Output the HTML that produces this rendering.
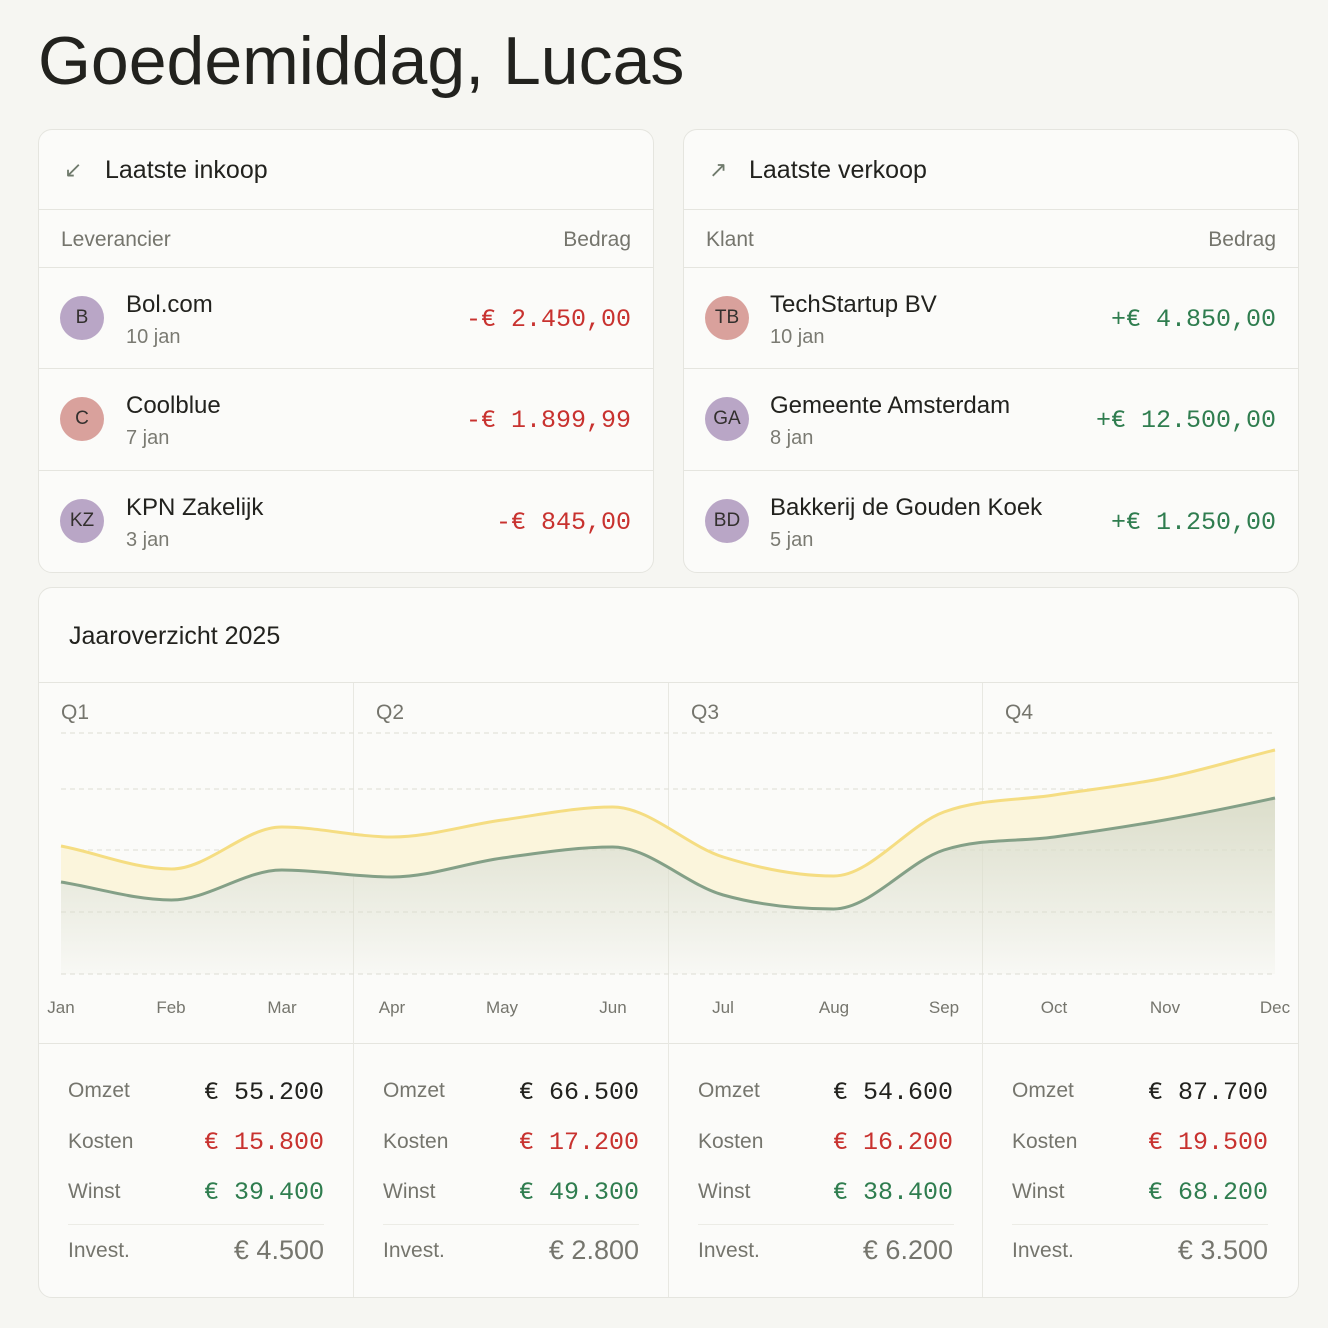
<!DOCTYPE html>
<html><head><meta charset="utf-8"><style>
*{margin:0;padding:0;box-sizing:border-box}
body{width:1328px;height:1328px;background:#f6f6f2;font-family:"Liberation Sans",sans-serif;color:#22221e;position:relative;overflow:hidden}
.a{position:absolute;white-space:nowrap}
.card{position:absolute;background:#fbfbf9;border:1px solid #e5e5df;border-radius:14px}
.hl{position:absolute;height:1px;background:#e5e5df}
.vl{position:absolute;width:1px;background:#e8e8e2}
.av{position:absolute;width:44px;height:44px;border-radius:50%;font-size:19px;text-align:center;line-height:44px;color:#33302e}
.nm{font-size:24px;color:#22221e}
.dt{font-size:20px;color:#7a7a72}
.mono{font-family:"Liberation Mono",monospace}
.red{color:#c8322f}.grn{color:#2f7d4f}
.hd{font-size:21px;color:#75756d}
.lb{font-size:21px;color:#75756d}
.v{font-family:"Liberation Mono",monospace;font-size:25px;text-align:right}
.iv{font-size:27px;color:#75756d}
</style></head><body>
<div class="a" style="left:38px;top:22px;font-size:68px;color:#22221e">Goedemiddag, Lucas</div>

<!-- left card -->
<div class="card" style="left:38px;top:129px;width:616px;height:444px"></div>
<div class="a" style="left:64px;top:157px;font-size:22px;color:#6f7a6c">↙</div>
<div class="a" style="left:105px;top:156px;font-size:25px">Laatste inkoop</div>
<div class="hl" style="left:39px;top:209px;width:614px"></div>
<div class="a hd" style="left:61px;top:228px">Leverancier</div>
<div class="a hd" style="right:697px;top:228px">Bedrag</div>
<div class="hl" style="left:39px;top:267px;width:614px"></div>
<div class="av" style="left:60px;top:296px;background:#b9a6c6">B</div>
<div class="a nm" style="left:126px;top:291px">Bol.com</div>
<div class="a dt" style="left:126px;top:326px">10 jan</div>
<div class="a mono red" style="right:697px;top:305px;font-size:25px">-€ 2.450,00</div>
<div class="hl" style="left:39px;top:368px;width:614px"></div>
<div class="av" style="left:60px;top:397px;background:#d9a19c">C</div>
<div class="a nm" style="left:126px;top:392px">Coolblue</div>
<div class="a dt" style="left:126px;top:427px">7 jan</div>
<div class="a mono red" style="right:697px;top:406px;font-size:25px">-€ 1.899,99</div>
<div class="hl" style="left:39px;top:470px;width:614px"></div>
<div class="av" style="left:60px;top:499px;background:#b9a6c6">KZ</div>
<div class="a nm" style="left:126px;top:494px">KPN Zakelijk</div>
<div class="a dt" style="left:126px;top:529px">3 jan</div>
<div class="a mono red" style="right:697px;top:508px;font-size:25px">-€ 845,00</div>

<!-- right card -->
<div class="card" style="left:683px;top:129px;width:616px;height:444px"></div>
<div class="a" style="left:709px;top:157px;font-size:22px;color:#6f7a6c">↗</div>
<div class="a" style="left:749px;top:156px;font-size:25px">Laatste verkoop</div>
<div class="hl" style="left:684px;top:209px;width:614px"></div>
<div class="a hd" style="left:706px;top:228px">Klant</div>
<div class="a hd" style="right:52px;top:228px">Bedrag</div>
<div class="hl" style="left:684px;top:267px;width:614px"></div>
<div class="av" style="left:705px;top:296px;background:#d9a19c">TB</div>
<div class="a nm" style="left:770px;top:291px">TechStartup BV</div>
<div class="a dt" style="left:770px;top:326px">10 jan</div>
<div class="a mono grn" style="right:52px;top:305px;font-size:25px">+€ 4.850,00</div>
<div class="hl" style="left:684px;top:368px;width:614px"></div>
<div class="av" style="left:705px;top:397px;background:#b9a6c6">GA</div>
<div class="a nm" style="left:770px;top:392px">Gemeente Amsterdam</div>
<div class="a dt" style="left:770px;top:427px">8 jan</div>
<div class="a mono grn" style="right:52px;top:406px;font-size:25px">+€ 12.500,00</div>
<div class="hl" style="left:684px;top:470px;width:614px"></div>
<div class="av" style="left:705px;top:499px;background:#b9a6c6">BD</div>
<div class="a nm" style="left:770px;top:494px">Bakkerij de Gouden Koek</div>
<div class="a dt" style="left:770px;top:529px">5 jan</div>
<div class="a mono grn" style="right:52px;top:508px;font-size:25px">+€ 1.250,00</div>

<!-- chart card -->
<div class="card" style="left:38px;top:587px;width:1261px;height:711px"></div>
<div class="a" style="left:69px;top:622px;font-size:25px">Jaaroverzicht 2025</div>
<div class="hl" style="left:39px;top:682px;width:1259px"></div>
<div class="hl" style="left:39px;top:1043px;width:1259px"></div>
<div class="vl" style="left:353px;top:683px;height:614px"></div>
<div class="vl" style="left:668px;top:683px;height:614px"></div>
<div class="vl" style="left:982px;top:683px;height:614px"></div>
<div class="a lb" style="left:61px;top:701px">Q1</div>
<div class="a lb" style="left:376px;top:701px">Q2</div>
<div class="a lb" style="left:691px;top:701px">Q3</div>
<div class="a lb" style="left:1005px;top:701px">Q4</div>

<svg class="a" style="left:0;top:0" width="1328" height="1328">
<defs><linearGradient id="g" x1="0" y1="800" x2="0" y2="974" gradientUnits="userSpaceOnUse"><stop offset="0" stop-color="#dcdecb"/><stop offset="1" stop-color="#dcdecb" stop-opacity="0.1"/></linearGradient></defs>
<g stroke="#e2e2dc" stroke-width="1.3" stroke-dasharray="5 4">
<line x1="61" y1="733" x2="1275" y2="733"/><line x1="61" y1="789" x2="1275" y2="789"/><line x1="61" y1="850" x2="1275" y2="850"/><line x1="61" y1="912" x2="1275" y2="912"/><line x1="61" y1="974" x2="1275" y2="974"/>
</g>
<path fill="#fbf5dc" d="M61 846 C97.8 853,134.6 869,171.4 869 C208.2 869,244.9 827,281.7 827 C318.5 827,355.3 837,392.1 837 C428.9 837,465.7 825,502.5 820 C539.3 815,576 807,612.8 807 C649.6 807,686.4 845.5,723.2 857 C760 868.5,796.8 876,833.6 876 C870.4 876,907.1 825.5,943.9 812 C980.7 798.5,1017.5 800.7,1054.3 795 C1091.1 789.3,1127.8 785.5,1164.6 778 C1201.4 770.5,1238.2 759,1275 750 L1275 798 C1238.2 806,1201.4 813.5,1164.6 820 C1127.8 826.5,1091.1 832,1054.3 837 C1017.5 842,980.7 838,943.9 850 C907.1 862,870.4 909,833.6 909 C796.8 909,760 905.3,723.2 895 C686.4 884.7,649.6 847,612.8 847 C576 847,539.3 853,502.5 858 C465.7 863,428.9 877,392.1 877 C355.3 877,318.5 870,281.7 870 C244.9 870,208.2 900,171.4 900 C134.6 900,97.8 888,61 882 Z"/>
<path fill="url(#g)" d="M61 882 C97.8 888,134.6 900,171.4 900 C208.2 900,244.9 870,281.7 870 C318.5 870,355.3 877,392.1 877 C428.9 877,465.7 863,502.5 858 C539.3 853,576 847,612.8 847 C649.6 847,686.4 884.7,723.2 895 C760 905.3,796.8 909,833.6 909 C870.4 909,907.1 862,943.9 850 C980.7 838,1017.5 842,1054.3 837 C1091.1 832,1127.8 826.5,1164.6 820 C1201.4 813.5,1238.2 806,1275 798 L1275 974 L61 974 Z"/>
<path fill="none" stroke="#f5dd82" stroke-width="3" d="M61 846 C97.8 853,134.6 869,171.4 869 C208.2 869,244.9 827,281.7 827 C318.5 827,355.3 837,392.1 837 C428.9 837,465.7 825,502.5 820 C539.3 815,576 807,612.8 807 C649.6 807,686.4 845.5,723.2 857 C760 868.5,796.8 876,833.6 876 C870.4 876,907.1 825.5,943.9 812 C980.7 798.5,1017.5 800.7,1054.3 795 C1091.1 789.3,1127.8 785.5,1164.6 778 C1201.4 770.5,1238.2 759,1275 750"/>
<path fill="none" stroke="#84a087" stroke-width="3" d="M61 882 C97.8 888,134.6 900,171.4 900 C208.2 900,244.9 870,281.7 870 C318.5 870,355.3 877,392.1 877 C428.9 877,465.7 863,502.5 858 C539.3 853,576 847,612.8 847 C649.6 847,686.4 884.7,723.2 895 C760 905.3,796.8 909,833.6 909 C870.4 909,907.1 862,943.9 850 C980.7 838,1017.5 842,1054.3 837 C1091.1 832,1127.8 826.5,1164.6 820 C1201.4 813.5,1238.2 806,1275 798"/>
<g font-family="Liberation Sans, sans-serif" font-size="17" fill="#75756d" text-anchor="middle">
<text x="61" y="1013">Jan</text><text x="171" y="1013">Feb</text><text x="282" y="1013">Mar</text><text x="392" y="1013">Apr</text><text x="502" y="1013">May</text><text x="613" y="1013">Jun</text><text x="723" y="1013">Jul</text><text x="834" y="1013">Aug</text><text x="944" y="1013">Sep</text><text x="1054" y="1013">Oct</text><text x="1165" y="1013">Nov</text><text x="1275" y="1013">Dec</text>
</g>
</svg>

<!-- stats -->
<div class="a lb" style="left:68px;top:1079px">Omzet</div><div class="a v" style="right:1004px;top:1078px">€ 55.200</div>
<div class="a lb" style="left:68px;top:1130px">Kosten</div><div class="a v red" style="right:1004px;top:1128px">€ 15.800</div>
<div class="a lb" style="left:68px;top:1180px">Winst</div><div class="a v grn" style="right:1004px;top:1178px">€ 39.400</div>
<div class="hl" style="left:68px;top:1224px;width:256px;background:#ecece6"></div>
<div class="a lb" style="left:68px;top:1239px">Invest.</div><div class="a iv" style="right:1004px;top:1235px">€ 4.500</div>

<div class="a lb" style="left:383px;top:1079px">Omzet</div><div class="a v" style="right:689px;top:1078px">€ 66.500</div>
<div class="a lb" style="left:383px;top:1130px">Kosten</div><div class="a v red" style="right:689px;top:1128px">€ 17.200</div>
<div class="a lb" style="left:383px;top:1180px">Winst</div><div class="a v grn" style="right:689px;top:1178px">€ 49.300</div>
<div class="hl" style="left:383px;top:1224px;width:256px;background:#ecece6"></div>
<div class="a lb" style="left:383px;top:1239px">Invest.</div><div class="a iv" style="right:689px;top:1235px">€ 2.800</div>

<div class="a lb" style="left:698px;top:1079px">Omzet</div><div class="a v" style="right:375px;top:1078px">€ 54.600</div>
<div class="a lb" style="left:698px;top:1130px">Kosten</div><div class="a v red" style="right:375px;top:1128px">€ 16.200</div>
<div class="a lb" style="left:698px;top:1180px">Winst</div><div class="a v grn" style="right:375px;top:1178px">€ 38.400</div>
<div class="hl" style="left:698px;top:1224px;width:256px;background:#ecece6"></div>
<div class="a lb" style="left:698px;top:1239px">Invest.</div><div class="a iv" style="right:375px;top:1235px">€ 6.200</div>

<div class="a lb" style="left:1012px;top:1079px">Omzet</div><div class="a v" style="right:60px;top:1078px">€ 87.700</div>
<div class="a lb" style="left:1012px;top:1130px">Kosten</div><div class="a v red" style="right:60px;top:1128px">€ 19.500</div>
<div class="a lb" style="left:1012px;top:1180px">Winst</div><div class="a v grn" style="right:60px;top:1178px">€ 68.200</div>
<div class="hl" style="left:1012px;top:1224px;width:256px;background:#ecece6"></div>
<div class="a lb" style="left:1012px;top:1239px">Invest.</div><div class="a iv" style="right:60px;top:1235px">€ 3.500</div>
</body></html>
